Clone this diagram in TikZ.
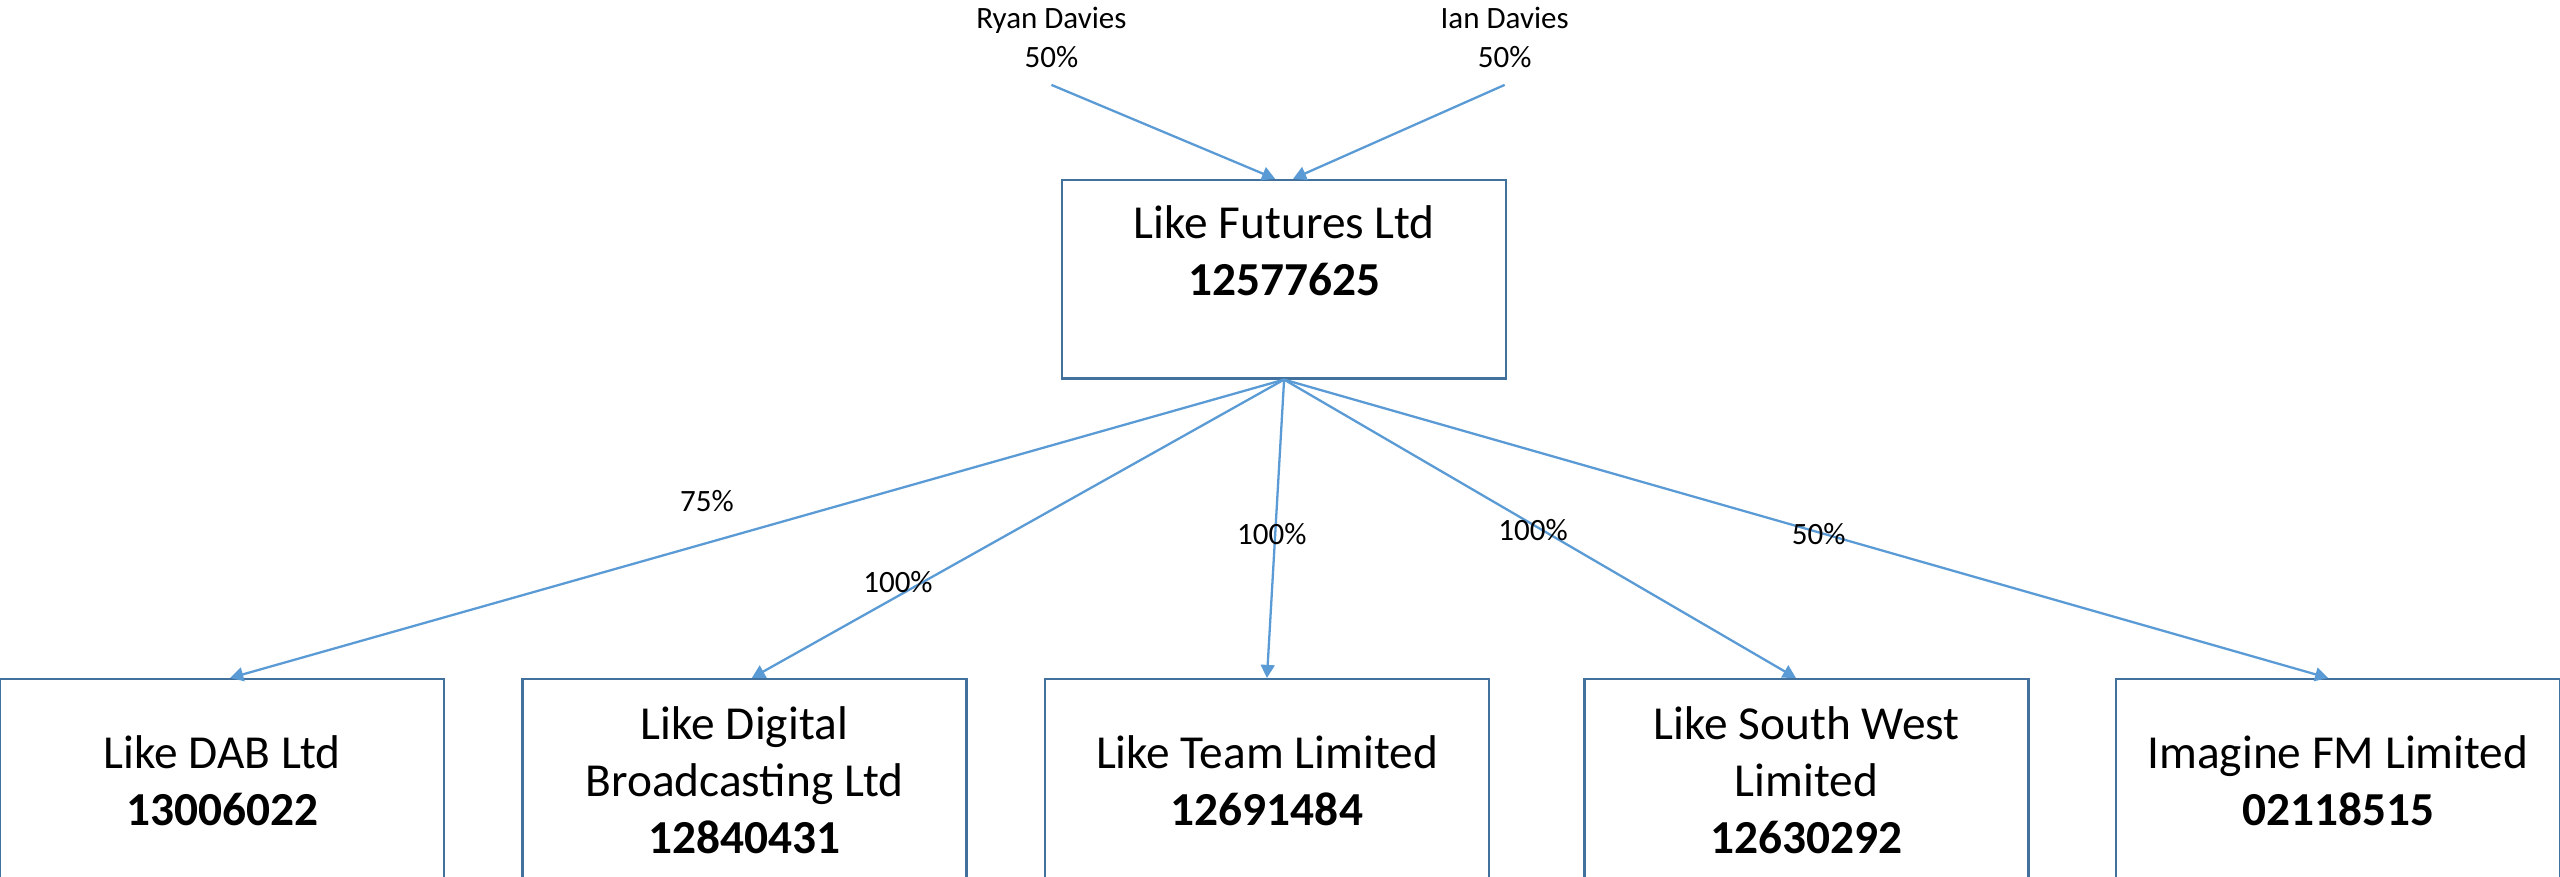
\documentclass[tikz,border=0pt]{standalone}
\usepackage{fontspec}
\setmainfont{Carlito}
\usetikzlibrary{arrows.meta,calc}
\definecolor{linkblue}{HTML}{5B9BD5}
\definecolor{boxblue}{HTML}{41719C}
\begin{document}
\begin{tikzpicture}[x=1pt,y=-1pt,
  company/.style={draw=boxblue, line width=1.5pt, minimum width=272pt, minimum height=121.5pt, inner sep=0pt, align=center, font=\fontsize{29}{35}\selectfont},
  owner/.style={align=center, inner sep=0pt, font=\fontsize{19}{24}\selectfont},
  share/.style={inner sep=0pt, font=\fontsize{19}{23}\selectfont},
  link/.style={draw=linkblue, line width=1.4pt, -{Triangle[length=8pt,width=8.5pt]}}]
\clip (0,0) rectangle (1568,537);
\useasboundingbox (0,0) rectangle (1568,537);
\fill[white] (0,0) rectangle (1568,537);

\node[company] (top) at (786.5,171) {Like Futures Ltd\\\textbf{12577625}\\~};

\node[company, minimum height=124pt] (dab) at (136,478) {Like DAB Ltd\\\textbf{13006022}};
\node[company, minimum height=124pt] (dig) at (456,478) {Like Digital\\Broadcasting Ltd\\\textbf{12840431}};
\node[company, minimum height=124pt] (team) at (776,478) {Like Team Limited\\\textbf{12691484}};
\node[company, minimum height=124pt] (sw) at (1106.5,478) {Like South West\\Limited\\\textbf{12630292}};
\node[company, minimum height=124pt] (fm) at (1432,478) {Imagine FM Limited\\\textbf{02118515}};

\node[owner, anchor=south] (ryan) at (644,42) {Ryan Davies\\50\%};
\node[owner, anchor=south] (ian) at (921.6,42) {Ian Davies\\50\%};

\draw[link] ([yshift=-10pt]ryan.south) -- ($(top.north)+(-5.5,0)$);
\draw[link] ([yshift=-10pt]ian.south) -- ($(top.north)+(5.5,0)$);

\draw[link] (top.south) -- ($(dab.north)+(5,0)$);
\draw[link] (top.south) -- ($(dig.north)+(4.5,0)$);
\draw[link] (top.south) -- (team.north);
\draw[link] (top.south) -- ($(sw.north)+(-6.5,0)$);
\draw[link] (top.south) -- ($(fm.north)+(-6,0)$);

\node[share] (p1) at (433,307) {75\%};
\node[share] (p2) at (550,356.5) {100\%};
\node[share] (p3) at (779,327) {100\%};
\node[share] (p4) at (939,324.5) {100\%};
\node[share] (p5) at (1114,327) {50\%};
\end{tikzpicture}
\end{document}
